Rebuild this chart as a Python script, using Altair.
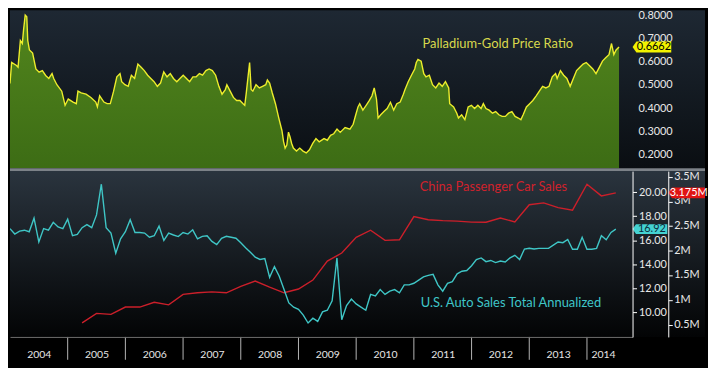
import altair as alt
import pandas as pd

# ---------------- data ----------------
# Palladium / gold price ratio: time offset in years from 2004-01-01, and ratio
PD_OFFSET = [
    0.000, 0.029, 0.113, 0.140, 0.180, 0.214, 0.236, 0.264, 0.291, 0.308,
    0.337, 0.392, 0.449, 0.505, 0.561, 0.618, 0.673, 0.729, 0.758, 0.813,
    0.897, 0.955, 1.010, 1.094, 1.150, 1.178, 1.234, 1.318, 1.402, 1.487,
    1.515, 1.554, 1.628, 1.684, 1.739, 1.796, 1.852, 1.907, 1.936, 1.992,
    2.049, 2.104, 2.160, 2.217, 2.273, 2.328, 2.386, 2.441, 2.497, 2.554,
    2.609, 2.665, 2.722, 2.778, 2.833, 2.891, 2.946, 3.002, 3.059, 3.114,
    3.170, 3.227, 3.283, 3.338, 3.396, 3.451, 3.507, 3.564, 3.620, 3.675,
    3.732, 3.759, 3.816, 3.872, 3.928, 3.985, 4.040, 4.069, 4.096, 4.153,
    4.180, 4.209, 4.264, 4.322, 4.377, 4.433, 4.461, 4.500, 4.545, 4.601,
    4.658, 4.714, 4.742, 4.769, 4.798, 4.827, 4.854, 4.882, 4.911, 4.966,
    5.022, 5.079, 5.135, 5.190, 5.247, 5.303, 5.359, 5.443, 5.500, 5.556,
    5.611, 5.668, 5.724, 5.808, 5.892, 5.948, 5.993, 6.032, 6.061, 6.116,
    6.173, 6.229, 6.274, 6.313, 6.352, 6.380, 6.426, 6.481, 6.537, 6.594,
    6.650, 6.705, 6.763, 6.818, 6.847, 6.902, 6.958, 7.015, 7.042, 7.071,
    7.126, 7.172, 7.210, 7.268, 7.323, 7.379, 7.436, 7.492, 7.547, 7.604,
    7.621, 7.689, 7.744, 7.773, 7.828, 7.884, 7.941, 7.997, 8.052, 8.109,
    8.165, 8.204, 8.249, 8.305, 8.362, 8.418, 8.473, 8.530, 8.586, 8.641,
    8.699, 8.754, 8.810, 8.855, 8.894, 8.951, 9.007, 9.062, 9.120, 9.175,
    9.231, 9.288, 9.343, 9.399, 9.456, 9.483, 9.540, 9.596, 9.652, 9.709,
    9.764, 9.820, 9.877, 9.933, 9.988, 10.045, 10.101, 10.157, 10.214, 10.269,
    10.325, 10.382, 10.426, 10.466, 10.505, 10.556,
]
PD_RATIO = [
    0.508, 0.599, 0.586, 0.579, 0.694, 0.681, 0.742, 0.804, 0.797, 0.694,
    0.653, 0.640, 0.571, 0.557, 0.564, 0.543, 0.530, 0.551, 0.530, 0.503,
    0.475, 0.414, 0.441, 0.428, 0.421, 0.475, 0.468, 0.462, 0.448, 0.428,
    0.407, 0.455, 0.428, 0.421, 0.421, 0.475, 0.537, 0.551, 0.516, 0.503,
    0.496, 0.544, 0.530, 0.592, 0.578, 0.564, 0.544, 0.530, 0.516, 0.496,
    0.510, 0.558, 0.537, 0.551, 0.530, 0.516, 0.530, 0.544, 0.530, 0.516,
    0.537, 0.537, 0.551, 0.544, 0.564, 0.571, 0.564, 0.544, 0.496, 0.462,
    0.482, 0.503, 0.475, 0.448, 0.435, 0.435, 0.421, 0.414, 0.469, 0.599,
    0.482, 0.475, 0.503, 0.489, 0.496, 0.503, 0.523, 0.510, 0.468, 0.421,
    0.360, 0.304, 0.257, 0.229, 0.242, 0.298, 0.277, 0.249, 0.229, 0.216,
    0.229, 0.216, 0.208, 0.222, 0.249, 0.270, 0.256, 0.270, 0.263, 0.284,
    0.291, 0.311, 0.297, 0.318, 0.311, 0.332, 0.373, 0.407, 0.421, 0.393,
    0.414, 0.435, 0.455, 0.489, 0.441, 0.359, 0.373, 0.387, 0.400, 0.427,
    0.393, 0.421, 0.428, 0.462, 0.482, 0.516, 0.544, 0.571, 0.599, 0.612,
    0.605, 0.551, 0.537, 0.544, 0.503, 0.489, 0.510, 0.496, 0.516, 0.489,
    0.421, 0.407, 0.380, 0.359, 0.373, 0.352, 0.407, 0.414, 0.400, 0.414,
    0.400, 0.421, 0.400, 0.393, 0.380, 0.387, 0.373, 0.366, 0.366, 0.380,
    0.387, 0.366, 0.359, 0.352, 0.373, 0.407, 0.421, 0.435, 0.455, 0.475,
    0.496, 0.489, 0.496, 0.537, 0.551, 0.530, 0.564, 0.544, 0.530, 0.496,
    0.530, 0.564, 0.578, 0.592, 0.599, 0.585, 0.571, 0.551, 0.578, 0.605,
    0.619, 0.633, 0.681, 0.633, 0.653, 0.666,
]
PD_LAST = 0.6662

# U.S. auto sales, total annualized (millions), monthly from 2004-01
US_START_YEAR = 2004
US_SALES = [
    16.96, 16.51, 16.75, 16.83, 16.70, 17.83, 15.85, 16.96, 16.83, 17.49,
    17.10, 16.96, 17.75, 16.37, 16.48, 17.04, 17.30, 17.04, 18.10, 20.66,
    17.04, 16.59, 14.92, 16.11, 16.70, 17.70, 16.64, 16.64, 16.59, 16.24,
    16.37, 17.17, 15.98, 16.59, 16.43, 16.30, 16.64, 16.51, 16.86, 16.11,
    16.32, 16.37, 15.90, 15.63, 16.16, 16.32, 16.24, 16.16, 15.79, 15.37,
    15.00, 14.58, 14.39, 14.47, 12.90, 13.80, 13.00, 11.90, 10.77, 10.42,
    10.24, 9.76, 9.10, 9.50, 9.23, 10.03, 10.16, 10.95, 14.52, 9.37,
    10.56, 11.09, 10.69, 10.42, 10.16, 11.48, 11.35, 11.88, 11.48, 11.75,
    11.88, 11.62, 12.28, 12.28, 12.41, 12.67, 12.94, 13.07, 13.15, 12.28,
    11.75, 12.41, 12.54, 13.20, 13.41, 13.47, 13.87, 14.39, 14.52, 14.21,
    14.31, 14.13, 14.26, 14.18, 14.52, 14.74, 14.39, 15.26, 15.32, 15.26,
    15.32, 15.32, 15.32, 15.58, 15.85, 15.79, 16.06, 15.24, 15.24, 16.24,
    15.24, 15.24, 15.32, 16.37, 16.03, 16.64, 16.92,
]
US_LAST = 16.92

# China passenger car sales (millions)
CN_MONTHS = [
    "2005-04", "2005-07", "2005-10", "2006-01", "2006-04", "2006-07", "2006-10", "2007-01", "2007-04", "2007-07",
    "2007-10", "2008-01", "2008-04", "2008-07", "2008-10", "2009-01", "2009-04", "2009-07", "2009-10", "2010-01",
    "2010-04", "2010-07", "2010-10", "2011-01", "2011-04", "2011-07", "2011-10", "2012-01", "2012-04", "2012-07",
    "2012-10", "2013-01", "2013-04", "2013-07", "2013-10", "2014-01", "2014-04", "2014-07",
]
CN_SALES = [
    0.533, 0.726, 0.707, 0.855, 0.855, 0.951, 0.900, 1.113, 1.145, 1.164,
    1.145, 1.274, 1.384, 1.260, 1.145, 1.222, 1.403, 1.790, 1.952, 2.270,
    2.416, 2.209, 2.222, 2.693, 2.629, 2.610, 2.600, 2.580, 2.577, 2.662,
    2.585, 2.933, 2.971, 2.875, 2.822, 3.350, 3.113, 3.175,
]
CN_LAST = 3.175

YEARS = [2004, 2005, 2006, 2007, 2008, 2009, 2010, 2011, 2012, 2013, 2014]
PD_TICKS = [0.2, 0.3, 0.4, 0.5, 0.6, 0.7, 0.8]
US_TICKS = [10, 12, 14, 16, 18, 20]
CN_TICKS = [0.5, 1.0, 1.5, 2.0, 2.5, 3.0, 3.5]

TITLE_PD = "Palladium-Gold Price Ratio"
TITLE_CN = "China Passenger Car Sales"
TITLE_US = "U.S. Auto Sales Total Annualized"

# ---------------- tables ----------------
pd_df = pd.DataFrame({"t": [2004 + o for o in PD_OFFSET], "v": PD_RATIO})
us_df = pd.DataFrame({"t": [US_START_YEAR + i / 12 for i in range(len(US_SALES))], "v": US_SALES})
cn_df = pd.DataFrame({
    "t": [int(s[:4]) + (int(s[5:7]) - 1) / 12 for s in CN_MONTHS],
    "v": CN_SALES,
})
t_end = pd_df["t"].max()
label_pos = [y + 0.5 for y in YEARS[:-1]] + [(YEARS[-1] + t_end) / 2]

# ---------------- layout ----------------
W, H1, H2, XA = 627, 159, 167, 30
TOTAL_W = 700
CN_OFF = 36
FONT = "Lato"
AX_FS = 11
TITLE_FS = 13
LABEL_C = "#e8e8e8"
XDOM = [2004.0, 2014.79]
xs = alt.Scale(domain=XDOM, nice=False, zero=False)
y_pd = alt.Scale(domain=[0.1424, 0.8247], nice=False, zero=False)
y_us = alt.Scale(domain=[7.94, 21.75], nice=False, zero=False)
y_cn = alt.Scale(domain=[0.248, 3.616], nice=False, zero=False)

ONE = alt.Data(values=[{}])


def grad(c0, c1):
    return alt.LinearGradient(
        gradient="linear",
        stops=[alt.GradientStop(color=c0, offset=0), alt.GradientStop(color=c1, offset=1)],
        x1=0, x2=0, y1=0, y2=1,
    )


def right_axis(values, offset=0, fmt=None, labels=True):
    kw = dict(
        orient="right", values=values, offset=offset, grid=False, title=None,
        domainColor="#ffffff", domainWidth=1, tickColor="#ffffff", tickSize=4,
        labelColor=LABEL_C, labelFont=FONT, labelFontSize=AX_FS, labelPadding=2,
        labelOverlap=False, labels=labels, zindex=1,
    )
    if fmt:
        kw["format"] = fmt
    return alt.Axis(**kw)


def tick_labels(values, scale, x_px, expr):
    # axis labels drawn as text, so that a last-value badge can sit on top of them
    return alt.Chart(pd.DataFrame({"v": values})).transform_calculate(s=expr).mark_text(
        font=FONT, fontSize=AX_FS, color=LABEL_C, align="left", baseline="middle"
    ).encode(x=alt.value(x_px), y=alt.Y("v:Q", scale=scale, axis=None), text="s:N")


def badge_shape(w, h):
    hh = h / w
    return f"M-1,0L-0.8,{-hh:.3f}L1,{-hh:.3f}L1,{hh:.3f}L-0.8,{hh:.3f}Z"


# ---------------- top panel ----------------
ax_pd = right_axis(PD_TICKS, labels=False)
bg_top = alt.Chart(ONE).mark_rect(color=grad("#1e2833", "#0a0e12")).encode(
    x=alt.value(0), x2=alt.value(TOTAL_W), y=alt.value(0), y2=alt.value(H1)
)
area = alt.Chart(pd_df).mark_area(clip=True, color=grad("#52851d", "#386713")).encode(
    x=alt.X("t:Q", scale=xs, axis=None),
    y=alt.Y("v:Q", scale=y_pd, axis=ax_pd),
)
pd_line = alt.Chart(pd_df).mark_line(clip=True, color="#eded2c", strokeWidth=1.4).encode(
    x=alt.X("t:Q", scale=xs, axis=None),
    y=alt.Y("v:Q", scale=y_pd, axis=ax_pd),
)
pd_tick_labels = tick_labels(PD_TICKS, y_pd, W + 6, "format(datum.v, '.4f')")
sep = alt.Chart(ONE).mark_rule(color="#7c8288", strokeWidth=3).encode(
    x=alt.value(0), x2=alt.value(TOTAL_W), y=alt.value(H1 + 1.5)
)
pd_title = alt.Chart(alt.Data(values=[{"s": TITLE_PD}])).mark_text(
    align="left", baseline="middle", font=FONT, fontSize=TITLE_FS, color="#d9d94c"
).encode(x=alt.value(415.5), y=alt.value(34.2), text="s:N")

pd_badge_df = pd.DataFrame({"v": [PD_LAST], "s": [f"{PD_LAST:.4f}"]})
bw = 39
pd_badge = alt.Chart(pd_badge_df).mark_point(
    shape=badge_shape(bw, 11), size=bw * bw, filled=True, opacity=1, color="#f2f200", strokeWidth=0
).encode(x=alt.value(W + bw / 2), y=alt.Y("v:Q", scale=y_pd, axis=ax_pd))
pd_badge_txt = alt.Chart(pd_badge_df).mark_text(
    font=FONT, fontSize=AX_FS, color="#000000", align="center", baseline="middle"
).encode(x=alt.value(W + bw / 2 + 2), y=alt.Y("v:Q", scale=y_pd, axis=ax_pd), text="s:N")

top = alt.layer(
    bg_top, area, pd_line, sep, pd_title, pd_tick_labels, pd_badge, pd_badge_txt
).properties(width=W, height=H1)

# ---------------- bottom panel ----------------
bg_bot = alt.Chart(ONE).mark_rect(color=grad("#2a343e", "#030405")).encode(
    x=alt.value(0), x2=alt.value(TOTAL_W), y=alt.value(0), y2=alt.value(H2)
)
bg_xa = alt.Chart(ONE).mark_rect(color="#000000").encode(
    x=alt.value(0), x2=alt.value(TOTAL_W), y=alt.value(H2), y2=alt.value(H2 + XA)
)
x_axis = alt.Axis(
    orient="bottom", values=label_pos, labelExpr="format(floor(datum.value), 'd')",
    ticks=False, tickSize=0, domainColor="#6e6e6e", domainWidth=1, grid=False, title=None,
    labelColor="#e6e6e6", labelFont=FONT, labelFontSize=10.5, labelBaseline="middle",
    labelPadding=18, labelFlush=False, labelOverlap=False, zindex=1,
)
us_line = alt.Chart(us_df).mark_line(clip=True, color="#3fc6c6", strokeWidth=1.4).encode(
    x=alt.X("t:Q", scale=xs, axis=x_axis),
    y=alt.Y("v:Q", scale=y_us, axis=right_axis(US_TICKS, fmt=".2f")),
)
cn_line = alt.Chart(cn_df).mark_line(clip=True, color="#cc1f2a", strokeWidth=1.4).encode(
    x=alt.X("t:Q", scale=xs),
    y=alt.Y("v:Q", scale=y_cn, axis=right_axis(CN_TICKS, offset=CN_OFF, labels=False)),
)
cn_tick_labels = tick_labels(CN_TICKS, y_cn, W + CN_OFF + 6, "datum.v + 'M'")

seps = alt.Chart(pd.DataFrame({"yr": YEARS[1:]})).mark_rule(color="#b4b4b4", strokeWidth=1).encode(
    x=alt.X("yr:Q", scale=xs), y=alt.value(H2), y2=alt.value(H2 + 23)
)
cn_title = alt.Chart(alt.Data(values=[{"s": TITLE_CN}])).mark_text(
    align="left", baseline="middle", font=FONT, fontSize=TITLE_FS, color="#d0222c"
).encode(x=alt.value(412.6), y=alt.value(16.5), text="s:N")
us_title = alt.Chart(alt.Data(values=[{"s": TITLE_US}])).mark_text(
    align="left", baseline="middle", font=FONT, fontSize=TITLE_FS, color="#3fc6c8"
).encode(x=alt.value(413.6), y=alt.value(133.3), text="s:N")

us_badge_df = pd.DataFrame({"v": [US_LAST], "s": [f"{US_LAST:.2f}"]})
cw = 35
us_badge = alt.Chart(us_badge_df).mark_point(
    shape=badge_shape(cw, 10), size=cw * cw, filled=True, opacity=1, color="#44d2d2", strokeWidth=0
).encode(x=alt.value(W + cw / 2), y=alt.Y("v:Q", scale=y_us, axis=None))
us_badge_txt = alt.Chart(us_badge_df).mark_text(
    font=FONT, fontSize=AX_FS, color="#0c2c3c", align="center", baseline="middle"
).encode(x=alt.value(W + cw / 2 + 2), y=alt.Y("v:Q", scale=y_us, axis=None), text="s:N")

cn_badge_df = pd.DataFrame({"v": [CN_LAST], "s": [f"{CN_LAST:.3f}M"]})
rw = 37
cn_badge = alt.Chart(cn_badge_df).mark_point(
    shape=badge_shape(rw, 11), size=rw * rw, filled=True, opacity=1, color="#e01414", strokeWidth=0
).encode(x=alt.value(W + CN_OFF + rw / 2), y=alt.Y("v:Q", scale=y_cn, axis=None))
cn_badge_txt = alt.Chart(cn_badge_df).mark_text(
    font=FONT, fontSize=AX_FS, color="#ffffff", align="center", baseline="middle"
).encode(x=alt.value(W + CN_OFF + rw / 2 + 2), y=alt.Y("v:Q", scale=y_cn, axis=None), text="s:N")

bottom = alt.layer(
    bg_bot, bg_xa, seps, cn_line, us_line, cn_title, us_title, cn_tick_labels,
    us_badge, us_badge_txt, cn_badge, cn_badge_txt,
).resolve_scale(y="independent").properties(width=W, height=H2)

chart = alt.vconcat(top, bottom, spacing=3, bounds="flush").properties(
    padding=0, background="#000000"
).configure_view(stroke=None)

chart.save("out.html", embed_options={"renderer": "svg", "actions": False})
